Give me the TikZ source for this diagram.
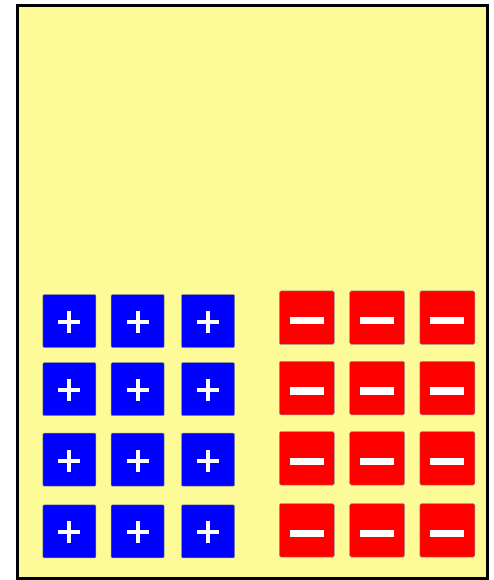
\documentclass[tikz,border=0pt]{standalone}
\begin{document}
\begin{tikzpicture}[
    x=1pt, y=-1pt,
    tray/.style={fill=trayyellow, draw=black, line width=3pt},
    postile/.style={fill=blue, draw=black!45, line width=0.5pt,
        rounded corners=1pt, minimum width=53pt, minimum height=53pt,
        inner sep=0pt},
    negtile/.style={fill=red, draw=black!40, line width=0.5pt,
        rounded corners=1.5pt, minimum width=55pt, minimum height=53.5pt,
        inner sep=0pt},
    plussign/.style={draw=white, line width=4pt},
    minussign/.style={draw=white, line width=7.5pt},
]
\definecolor{trayyellow}{RGB}{253,251,152}
\useasboundingbox (0,0) rectangle (494,580);

% --- Tray ---
\draw[tray] (17.5,5.5) rectangle (487.5,578);

% --- Positive tiles: 3 columns x 4 rows ---
\foreach \x [count=\c] in {69.4,137.7,208} {
    \foreach \y [count=\r] in {321,389.2,459.7,531.4} {
        \node[postile] (p\c\r) at (\x,\y) {};
        \draw[plussign] ([xshift=-11pt,yshift=-1pt]p\c\r.center) -- ([xshift=11pt,yshift=-1pt]p\c\r.center);
        \draw[plussign] ([yshift=-12pt]p\c\r.center) -- ([yshift=10pt]p\c\r.center);
    }
}

% --- Negative tiles: 3 columns x 4 rows ---
\foreach \x [count=\c] in {306.8,377.2,447.3} {
    \foreach \y [count=\r] in {317.7,388,458.3,530.3} {
        \node[negtile] (n\c\r) at (\x,\y) {};
        \draw[minussign] ([xshift=-17pt,yshift=-3pt]n\c\r.center) -- ([xshift=17pt,yshift=-3pt]n\c\r.center);
    }
}

\end{tikzpicture}
\end{document}
